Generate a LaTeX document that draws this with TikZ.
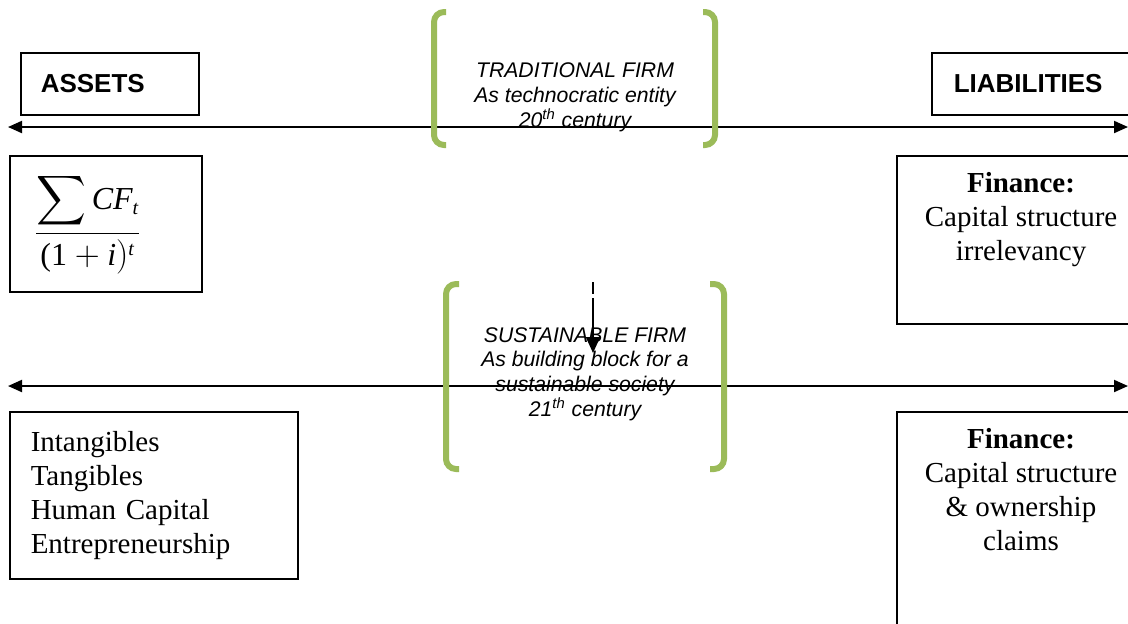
\documentclass[tikz,border=0pt]{standalone}
\usepackage{amsmath}
\usepackage{fontspec}
\setmainfont{Liberation Serif}
\newfontfamily\arialfont{Liberation Sans}
\usetikzlibrary{arrows.meta}
\definecolor{firmgreen}{RGB}{155,187,89}
\newcommand\idx[1]{\mbox{\fontsize{10}{10}\selectfont\itshape #1}}
\begin{document}
\begin{tikzpicture}[x=0.5pt,y=-0.5pt,
  box/.style={draw,line width=0.75pt,inner sep=0pt},
  axis/.style={line width=1pt,{Triangle[length=7pt,width=6pt]}-{Triangle[length=7pt,width=6pt]}},
  bracket/.style={line width=3pt,color=firmgreen,rounded corners=5pt},
  head/.style={font=\arialfont\bfseries\fontsize{13}{15}\selectfont,align=left},
  firmtext/.style={font=\arialfont\itshape\fontsize{10.6}{12.4}\selectfont,align=center,inner sep=0pt},
  body/.style={font=\fontsize{14.5}{17}\selectfont}]
\useasboundingbox (0,0) rectangle (1128,623);
\clip (0,0) rectangle (1128,623);
% headings
\node[box,head,anchor=north west,text width=69pt,inner xsep=10pt,minimum height=31pt] (assets) at (20,52) {ASSETS};
\node[box,head,anchor=north west,text width=120pt,inner xsep=11pt,minimum height=31pt] (liab) at (931,52) {LIABILITIES};
% 20th century
\coordinate (l1) at (8,127);
\coordinate (r1) at (1128,127);
\draw[axis] (l1)--(r1);
\draw[bracket] (446,12)--(434,12)--(434,145)--(446,145);
\draw[bracket] (703,12)--(715,12)--(715,145)--(703,145);
\node[firmtext] (trad) at (575,97) {TRADITIONAL FIRM\\As technocratic entity\\20\textsuperscript{th} century};
\node[box,body,anchor=north west,text width=72pt,inner xsep=12pt,minimum height=68pt,align=left] (value) at (9,155)
  {\fontsize{16}{18}\selectfont\raisebox{3pt}{$\dfrac{\displaystyle\sum\mbox{\itshape CF}_{\idx{t}}}{\mbox{(1}+\mbox{\itshape i})^{\idx{t}}}$}};
\node[box,anchor=north west,minimum width=125pt,minimum height=84pt] (fin1) at (896,155) {};
\node[body,align=center,inner sep=0pt,anchor=north] (fin1txt) at (1021,172) {\textbf{Finance:}\\Capital structure\\irrelevancy};
% 21st century
\coordinate (dtop) at (593,282);
\coordinate (dbot) at (593,353);
\draw[line width=1pt,dash pattern=on 6pt off 2pt on 100pt,-{Triangle[length=8pt,width=7pt]}] (dtop)--(dbot);
\coordinate (l2) at (8,386);
\coordinate (r2) at (1128,386);
\draw[axis] (l2)--(r2);
\draw[bracket] (459,284)--(446,284)--(446,469)--(459,469);
\draw[bracket] (710,284)--(724,284)--(724,469)--(710,469);
\node[firmtext] (sust) at (585,374) {SUSTAINABLE FIRM\\As building block for a\\sustainable society\\21\textsuperscript{th} century};
\node[box,body,anchor=north west,text width=123pt,inner xsep=10.5pt,minimum height=83.5pt,align=left] (intang) at (9,411)
  {Intangibles\\Tangibles\\Human Capital\\Entrepreneurship};
\node[box,anchor=north west,minimum width=125pt,minimum height=110pt] (fin2) at (896,411) {};
\node[body,align=center,inner sep=0pt,anchor=north] (fin2txt) at (1021,428) {\textbf{Finance:}\\Capital structure\\\&\ ownership\\claims};
\end{tikzpicture}
\end{document}
